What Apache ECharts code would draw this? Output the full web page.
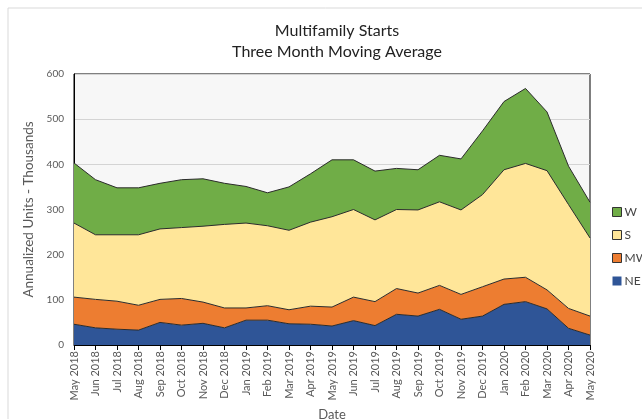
<!DOCTYPE html>
<html>
<head>
<meta charset="utf-8">
<script src="https://cdn.jsdelivr.net/npm/echarts@6/dist/echarts.min.js"></script>
<style>
  html, body { margin: 0; padding: 0; background: #fff; }
  #main { width: 642px; height: 419px; }
</style>
</head>
<body>
<div id="main"></div>
<script>
var months = ['May 2018', 'Jun 2018', 'Jul 2018', 'Aug 2018', 'Sep 2018', 'Oct 2018', 'Nov 2018',
  'Dec 2018', 'Jan 2019', 'Feb 2019', 'Mar 2019', 'Apr 2019', 'May 2019', 'Jun 2019', 'Jul 2019',
  'Aug 2019', 'Sep 2019', 'Oct 2019', 'Nov 2019', 'Dec 2019', 'Jan 2020', 'Feb 2020', 'Mar 2020',
  'Apr 2020', 'May 2020'];

// thousands of units, stacked NE -> MW -> S -> W
var ne = [46, 38, 35, 33, 50, 44, 48, 38, 55, 55, 47, 46, 42, 54, 43, 68, 64, 79, 57, 64, 90, 96, 80, 37, 22];
var mw = [60, 63, 62, 55, 51, 59, 47, 44, 27, 32, 31, 40, 42, 52, 53, 57, 51, 53, 55, 65, 56, 54, 42, 44, 42];
var s = [164, 143, 147, 156, 156, 157, 168, 185, 188, 177, 176, 186, 200, 194, 181, 175, 184, 185, 187, 204, 242, 252, 264, 230, 173];
var w = [133, 122, 104, 104, 101, 106, 105, 91, 81, 73, 96, 107, 126, 110, 108, 91, 89, 103, 113, 141, 151, 166, 130, 85, 79];

var font = 'Lato';

var chartDom = document.getElementById('main');
var myChart = echarts.init(chartDom);
var option;

function areaSeries(name, data, color) {
  return {
    name: name,
    type: 'line',
    stack: 'total',
    data: data,
    symbol: 'none',
    lineStyle: { color: '#2b2b2b', width: 1 },
    areaStyle: { color: color, opacity: 1 },
    itemStyle: { color: color }
  };
}

option = {
  animation: false,
  textStyle: { fontFamily: font },
  graphic: [
    {
      type: 'rect',
      shape: { x: 8, y: 8, width: 700, height: 500 },
      style: { fill: 'none', stroke: '#d9d9d9', lineWidth: 1 },
      silent: true
    }
  ],
  title: {
    text: 'Multifamily Starts\nThree Month Moving Average',
    left: 332,
    textAlign: 'center',
    top: 15,
    textStyle: { fontFamily: font, fontSize: 16, fontWeight: 'normal', color: '#222', lineHeight: 21 }
  },
  legend: {
    orient: 'vertical',
    left: 607,
    top: 201,
    itemGap: 11,
    itemWidth: 9,
    itemHeight: 9,
    icon: 'rect',
    textStyle: { fontFamily: font, fontSize: 12, color: '#444', padding: [0, 0, 0, -2] },
    data: [
      { name: 'W', itemStyle: { borderColor: '#333', borderWidth: 1 } },
      { name: 'S', itemStyle: { borderColor: '#333', borderWidth: 1 } },
      { name: 'MW', itemStyle: { borderColor: '#333', borderWidth: 1 } },
      { name: 'NE', itemStyle: { borderColor: '#2F5597', borderWidth: 0 } }
    ]
  },
  grid: {
    left: 74,
    right: 52,
    top: 74,
    bottom: 74,
    outerBoundsMode: 'none',
    show: true,
    backgroundColor: '#f7f7f7',
    borderColor: '#000',
    borderWidth: 1
  },
  xAxis: {
    type: 'category',
    data: months,
    boundaryGap: false,
    name: 'Date',
    nameLocation: 'middle',
    nameGap: 61,
    nameTextStyle: { fontFamily: font, fontSize: 13, color: '#595959' },
    axisLine: { lineStyle: { color: '#000' } },
    axisTick: { show: true, length: 5, lineStyle: { color: '#000' } },
    axisLabel: { rotate: 90, interval: 0, fontSize: 11, color: '#595959', fontFamily: font, margin: 6 }
  },
  yAxis: {
    type: 'value',
    min: 0,
    max: 600,
    interval: 100,
    name: 'Annualized Units - Thousands',
    nameLocation: 'middle',
    nameGap: 34,
    nameTextStyle: { fontFamily: font, fontSize: 13.5, color: '#595959' },
    axisLine: { show: true, lineStyle: { color: '#000' } },
    axisTick: { show: false },
    axisLabel: { fontSize: 10, color: '#595959', fontFamily: font, margin: 10 },
    splitLine: { lineStyle: { color: '#d4d4d4' } }
  },
  series: [
    areaSeries('NE', ne, '#2F5597'),
    areaSeries('MW', mw, '#ED7D31'),
    areaSeries('S', s, '#FFE699'),
    areaSeries('W', w, '#70AD47')
  ]
};

option && myChart.setOption(option);
</script>
</body>
</html>
